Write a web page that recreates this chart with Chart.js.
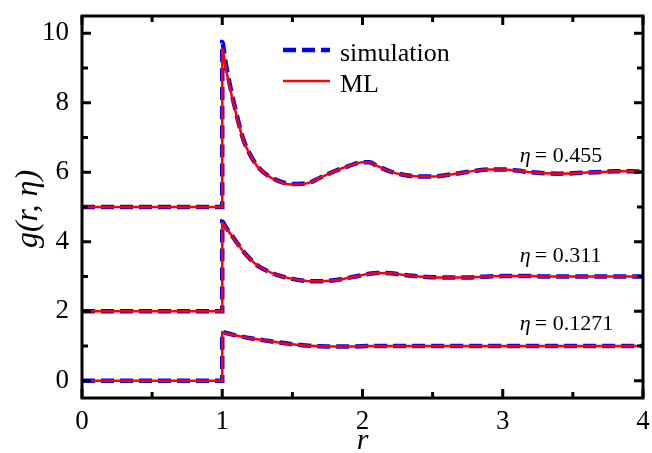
<!DOCTYPE html>
<html>
<head>
<meta charset="utf-8">
<script src="https://cdn.jsdelivr.net/npm/chart.js@4"></script>
<style>
  html, body { margin: 0; padding: 0; background: #fff; }
  #wrap { width: 652px; height: 453px; }
</style>
</head>
<body>
<div id="wrap"><canvas id="chart"></canvas></div>
<script>
(() => {
  'use strict';

  // r grid (the step at r = 1 is given twice)
  const r = [0, 1, 1, 1.02, 1.05, 1.1, 1.15, 1.2, 1.25, 1.3, 1.4, 1.5, 1.6, 1.7, 1.8, 1.9, 2.0, 2.05, 2.1, 2.2, 2.3, 2.4, 2.5,
    2.6, 2.7, 2.8, 2.9, 3.0, 3.1, 3.2, 3.3, 3.4, 3.5, 3.6, 3.7, 3.8, 3.9, 4.0];

  // eta = 0.455 (shifted by +5)
  const sim455 = [5, 5, 9.75, 9.25, 8.6, 7.7, 6.95, 6.5, 6.18, 5.98, 5.75, 5.66, 5.68, 5.85, 6.03, 6.18, 6.29, 6.29, 6.19, 6.02, 5.92, 5.88, 5.88,
    5.92, 5.98, 6.04, 6.08, 6.08, 6.05, 6.0, 5.97, 5.96, 5.97, 5.99, 6.01, 6.03, 6.03, 6.02];
  const ml455 = [5, 5, 9.55, 9.12, 8.52, 7.66, 6.93, 6.49, 6.17, 5.97, 5.74, 5.65, 5.68, 5.85, 6.03, 6.18, 6.29, 6.29, 6.19, 6.02, 5.92, 5.88, 5.88,
    5.92, 5.98, 6.04, 6.08, 6.08, 6.05, 6.0, 5.97, 5.96, 5.97, 5.99, 6.01, 6.03, 6.03, 6.02];

  // eta = 0.311 (shifted by +2)
  const sim311 = [2, 2, 4.58, 4.45, 4.28, 4.0, 3.72, 3.5, 3.32, 3.2, 3.03, 2.93, 2.87, 2.86, 2.89, 2.96, 3.04, 3.08, 3.1, 3.09, 3.04, 3.0, 2.98,
    2.97, 2.97, 2.98, 3.0, 3.01, 3.01, 3.01, 3.0, 3.0, 3.0, 3.0, 3.0, 3.0, 3.0, 3.0];
  const ml311 = [2, 2, 4.55, 4.43, 4.27, 3.99, 3.72, 3.5, 3.32, 3.2, 3.03, 2.93, 2.87, 2.86, 2.89, 2.96, 3.04, 3.08, 3.1, 3.09, 3.04, 3.0, 2.98,
    2.97, 2.97, 2.98, 3.0, 3.01, 3.01, 3.01, 3.0, 3.0, 3.0, 3.0, 3.0, 3.0, 3.0, 3.0];

  // eta = 0.1271
  const sim1271 = [0, 0, 1.4, 1.38, 1.35, 1.3, 1.26, 1.22, 1.19, 1.16, 1.1, 1.05, 1.01, 0.99, 0.98, 0.98, 0.99, 1.0, 1.0, 1.0, 1.0, 1.0, 1.0,
    1.0, 1.0, 1.0, 1.0, 1.0, 1.0, 1.0, 1.0, 1.0, 1.0, 1.0, 1.0, 1.0, 1.0, 1.0];
  const ml1271 = [0, 0, 1.39, 1.37, 1.34, 1.3, 1.26, 1.22, 1.19, 1.16, 1.1, 1.05, 1.01, 0.99, 0.98, 0.98, 0.99, 1.0, 1.0, 1.0, 1.0, 1.0, 1.0,
    1.0, 1.0, 1.0, 1.0, 1.0, 1.0, 1.0, 1.0, 1.0, 1.0, 1.0, 1.0, 1.0, 1.0, 1.0];

  const xTicks = [0, 1, 2, 3, 4];
  const xMinor = [0.5, 1.5, 2.5, 3.5];
  const yTicks = [0, 2, 4, 6, 8, 10];
  const yMinor = [1, 3, 5, 7, 9];

  const etaLabels = ['0.455', '0.311', '0.1271'];
  const etaLabelY = [6.31, 3.43, 1.47];
  const etaLabelX = 3.1;

  const legendNames = ['simulation', 'ML'];

  const SERIF = '"Liberation Serif", "Times New Roman", Times, serif';
  const BLUE = '#0000ff';
  const RED = '#ff0000';

  const toPoints = ys => r.map((x, i) => ({x, y: ys[i]}));

  // lower order is drawn on top: ML above the dashed simulation line
  const simStyle = {
    borderColor: BLUE, borderWidth: 4.5, borderDash: [13, 6], order: 2,
    pointRadius: 0, fill: false, cubicInterpolationMode: 'monotone'
  };
  const mlStyle = {
    borderColor: RED, borderWidth: 2.5, order: 1,
    pointRadius: 0, fill: false, cubicInterpolationMode: 'monotone'
  };

  const datasets = [
    {label: legendNames[0], data: toPoints(sim455), ...simStyle},
    {label: legendNames[0], data: toPoints(sim311), ...simStyle},
    {label: legendNames[0], data: toPoints(sim1271), ...simStyle},
    {label: legendNames[1], data: toPoints(ml455), ...mlStyle},
    {label: legendNames[1], data: toPoints(ml311), ...mlStyle},
    {label: legendNames[1], data: toPoints(ml1271), ...mlStyle}
  ];

  const noPad = s => { s.paddingLeft = 0; s.paddingRight = 0; s.paddingTop = 0; s.paddingBottom = 0; };

  // frame, inward ticks, legend and annotations
  const decor = {
    id: 'decor',
    afterDatasetsDraw(chart) {
      const {ctx, chartArea: a, scales: {x, y}} = chart;
      ctx.save();
      ctx.strokeStyle = '#000';
      ctx.lineWidth = 3;
      ctx.strokeRect(a.left, a.top, a.right - a.left, a.bottom - a.top);

      const tick = (vals, len) => {
        vals.forEach(v => {
          const px = x.getPixelForValue(v);
          ctx.beginPath();
          ctx.moveTo(px, a.bottom); ctx.lineTo(px, a.bottom - len);
          ctx.moveTo(px, a.top); ctx.lineTo(px, a.top + len);
          ctx.stroke();
        });
      };
      const ytick = (vals, len) => {
        vals.forEach(v => {
          const py = y.getPixelForValue(v);
          ctx.beginPath();
          ctx.moveTo(a.left, py); ctx.lineTo(a.left + len, py);
          ctx.moveTo(a.right, py); ctx.lineTo(a.right - len, py);
          ctx.stroke();
        });
      };
      tick(xTicks, 9); tick(xMinor, 6);
      ytick(yTicks, 9); ytick(yMinor, 6);

      // legend
      ctx.lineWidth = 4.5;
      ctx.strokeStyle = BLUE;
      ctx.setLineDash([13, 6]);
      ctx.beginPath(); ctx.moveTo(283, 50); ctx.lineTo(330, 50); ctx.stroke();
      ctx.setLineDash([]);
      ctx.lineWidth = 2.5;
      ctx.strokeStyle = RED;
      ctx.beginPath(); ctx.moveTo(283, 81); ctx.lineTo(330, 81); ctx.stroke();
      ctx.fillStyle = '#000';
      ctx.font = '26px ' + SERIF;
      ctx.textAlign = 'left';
      ctx.textBaseline = 'alphabetic';
      ctx.fillText(legendNames[0], 340, 61);
      ctx.fillText(legendNames[1], 340, 92);

      // eta labels
      etaLabels.forEach((t, i) => {
        const px = x.getPixelForValue(etaLabelX) + 3;
        const py = y.getPixelForValue(etaLabelY[i]);
        ctx.font = 'italic 22px ' + SERIF;
        ctx.fillText('\u03b7', px, py);
        ctx.font = '22px ' + SERIF;
        ctx.fillText('=', px + 15, py);
        ctx.fillText(t, px + 33, py);
      });

      // axis titles
      ctx.font = 'italic 30px ' + SERIF;
      ctx.textAlign = 'center';
      ctx.fillText('r', (a.left + a.right) / 2, 449);
      ctx.save();
      ctx.translate(37, (a.top + a.bottom) / 2 + 2);
      ctx.rotate(-Math.PI / 2);
      ctx.font = 'italic 32px ' + SERIF;
      ctx.fillText('g(r, \u03b7)', 0, 0);
      ctx.restore();
      ctx.restore();
    }
  };

  const draw = () => new Chart(document.getElementById('chart').getContext('2d'), {
    type: 'line',
    data: {datasets},
    options: {
      responsive: true,
      maintainAspectRatio: false,
      animation: false,
      layout: {padding: {left: 0, right: 9, top: 16, bottom: 0}},
      plugins: {legend: {display: false}, tooltip: {enabled: false}},
      scales: {
        x: {
          type: 'linear', min: 0, max: 4,
          afterFit: s => { s.height = 55; noPad(s); },
          afterBuildTicks: s => { s.ticks = xTicks.map(value => ({value})); },
          grid: {display: false, drawTicks: false},
          border: {display: false},
          ticks: {color: '#000', padding: 8, maxRotation: 0, autoSkip: false, font: {family: SERIF, size: 27}}
        },
        y: {
          type: 'linear', min: -0.5, max: 10.5,
          afterFit: s => { s.width = 82; noPad(s); },
          afterBuildTicks: s => { s.ticks = yTicks.map(value => ({value})); },
          grid: {display: false, drawTicks: false},
          border: {display: false},
          ticks: {color: '#000', padding: 13, autoSkip: false, font: {family: SERIF, size: 27}}
        }
      }
    },
    plugins: [decor]
  });

  const fonts = ['26px "Liberation Serif"', 'italic 26px "Liberation Serif"'];
  Promise.all(fonts.map(f => document.fonts.load(f))).then(draw, draw);
})();
</script>
</body>
</html>
